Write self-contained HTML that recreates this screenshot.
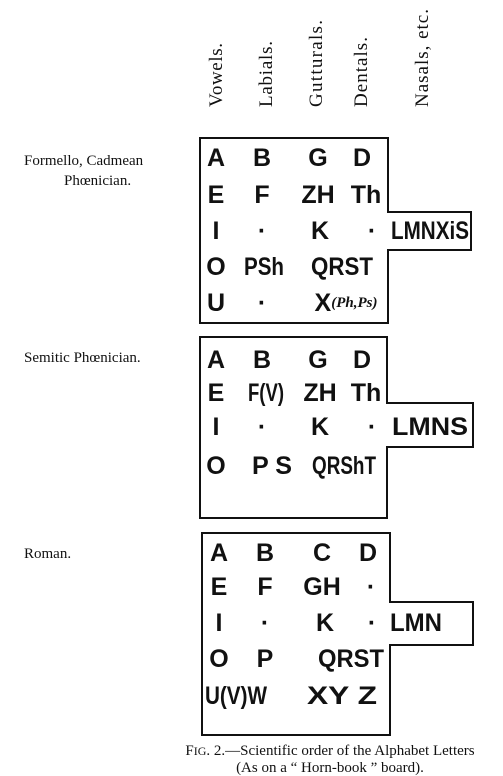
<!DOCTYPE html>
<html><head><meta charset="utf-8"><style>
html,body{margin:0;padding:0;background:#fff;width:503px;height:776px;overflow:hidden}
svg{display:block}
.l{font-family:"Liberation Sans",sans-serif;font-weight:bold;font-size:25px;fill:#111}
.s{font-family:"Liberation Serif",serif;font-size:15px;fill:#111}
.h{font-family:"Liberation Serif",serif;font-size:19px;fill:#111}
</style></head><body>
<svg width="503" height="776">
<g class="h">
<text transform="translate(222,107) rotate(-90)" textLength="64">Vowels.</text>
<text transform="translate(272,107) rotate(-90)" textLength="66">Labials.</text>
<text transform="translate(322,107) rotate(-90)" textLength="87">Gutturals.</text>
<text transform="translate(367,107) rotate(-90)" textLength="70">Dentals.</text>
<text transform="translate(428,107) rotate(-90)" textLength="98">Nasals, etc.</text>
</g>
<g fill="none" stroke="#111" stroke-width="2">
<path d="M200,138H388V212H471V250H388V323H200Z"/>
<path d="M200,337H387V403H473V447H387V518H200Z"/>
<path d="M202,533H390V602H473V645H390V735H202Z"/>
</g>
<g class="s">
<text x="24" y="165">Formello, Cadmean</text>
<text x="64" y="185">Phœnician.</text>
<text x="24" y="362">Semitic Phœnician.</text>
<text x="24" y="558">Roman.</text>
<text x="330" y="755" text-anchor="middle">F<tspan font-size="12">IG</tspan>. 2.—Scientific order of the Alphabet Letters</text>
<text x="330" y="772" text-anchor="middle">(As on a “ Horn-book ” board).</text>
</g>
<g class="l" text-anchor="middle" dominant-baseline="central" lengthAdjust="spacingAndGlyphs">
<text x="216" y="158">A</text><text x="262" y="158">B</text><text x="318" y="158">G</text><text x="362" y="158">D</text>
<text x="216" y="195">E</text><text x="262" y="195">F</text><text x="318" y="195">ZH</text><text x="366" y="195">Th</text>
<text x="216" y="231">I</text><text x="262" y="231">·</text><text x="320" y="231">K</text><text x="372" y="231">·</text><text x="430" y="231" textLength="78" lengthAdjust="spacingAndGlyphs">LMNXiS</text>
<text x="216" y="267">O</text><text x="264" y="267" textLength="40" lengthAdjust="spacingAndGlyphs">PSh</text><text x="342" y="267" textLength="62" lengthAdjust="spacingAndGlyphs">QRST</text>
<text x="216" y="303">U</text><text x="262" y="303">·</text><text x="346" y="303">X<tspan font-size="15" font-style="italic" font-family="Liberation Serif">(Ph,Ps)</tspan></text>
</g>
<g class="l" text-anchor="middle" dominant-baseline="central">
<text x="216" y="360">A</text><text x="262" y="360">B</text><text x="318" y="360">G</text><text x="362" y="360">D</text>
<text x="216" y="393">E</text><text x="266" y="393" textLength="36" lengthAdjust="spacingAndGlyphs">F(V)</text><text x="320" y="393">ZH</text><text x="366" y="393">Th</text>
<text x="216" y="427">I</text><text x="262" y="427">·</text><text x="320" y="427">K</text><text x="372" y="427">·</text><text x="430" y="427" textLength="76" lengthAdjust="spacingAndGlyphs">LMNS</text>
<text x="216" y="466">O</text><text x="272" y="466" textLength="40" lengthAdjust="spacingAndGlyphs">P S</text><text x="344" y="466" textLength="64" lengthAdjust="spacingAndGlyphs">QRShT</text>
</g>
<g class="l" text-anchor="middle" dominant-baseline="central">
<text x="219" y="553">A</text><text x="265" y="553">B</text><text x="322" y="553">C</text><text x="368" y="553">D</text>
<text x="219" y="587">E</text><text x="265" y="587">F</text><text x="322" y="587">GH</text><text x="371" y="587">·</text>
<text x="219" y="623">I</text><text x="265" y="623">·</text><text x="325" y="623">K</text><text x="372" y="623">·</text><text x="416" y="623" textLength="52" lengthAdjust="spacingAndGlyphs">LMN</text>
<text x="219" y="659">O</text><text x="265" y="659">P</text><text x="351" y="659" textLength="66" lengthAdjust="spacingAndGlyphs">QRST</text>
<text x="236" y="696" textLength="62" lengthAdjust="spacingAndGlyphs">U(V)W</text><text x="342" y="696" textLength="70" lengthAdjust="spacingAndGlyphs">XY Z</text>
</g>
</svg>
</body></html>
